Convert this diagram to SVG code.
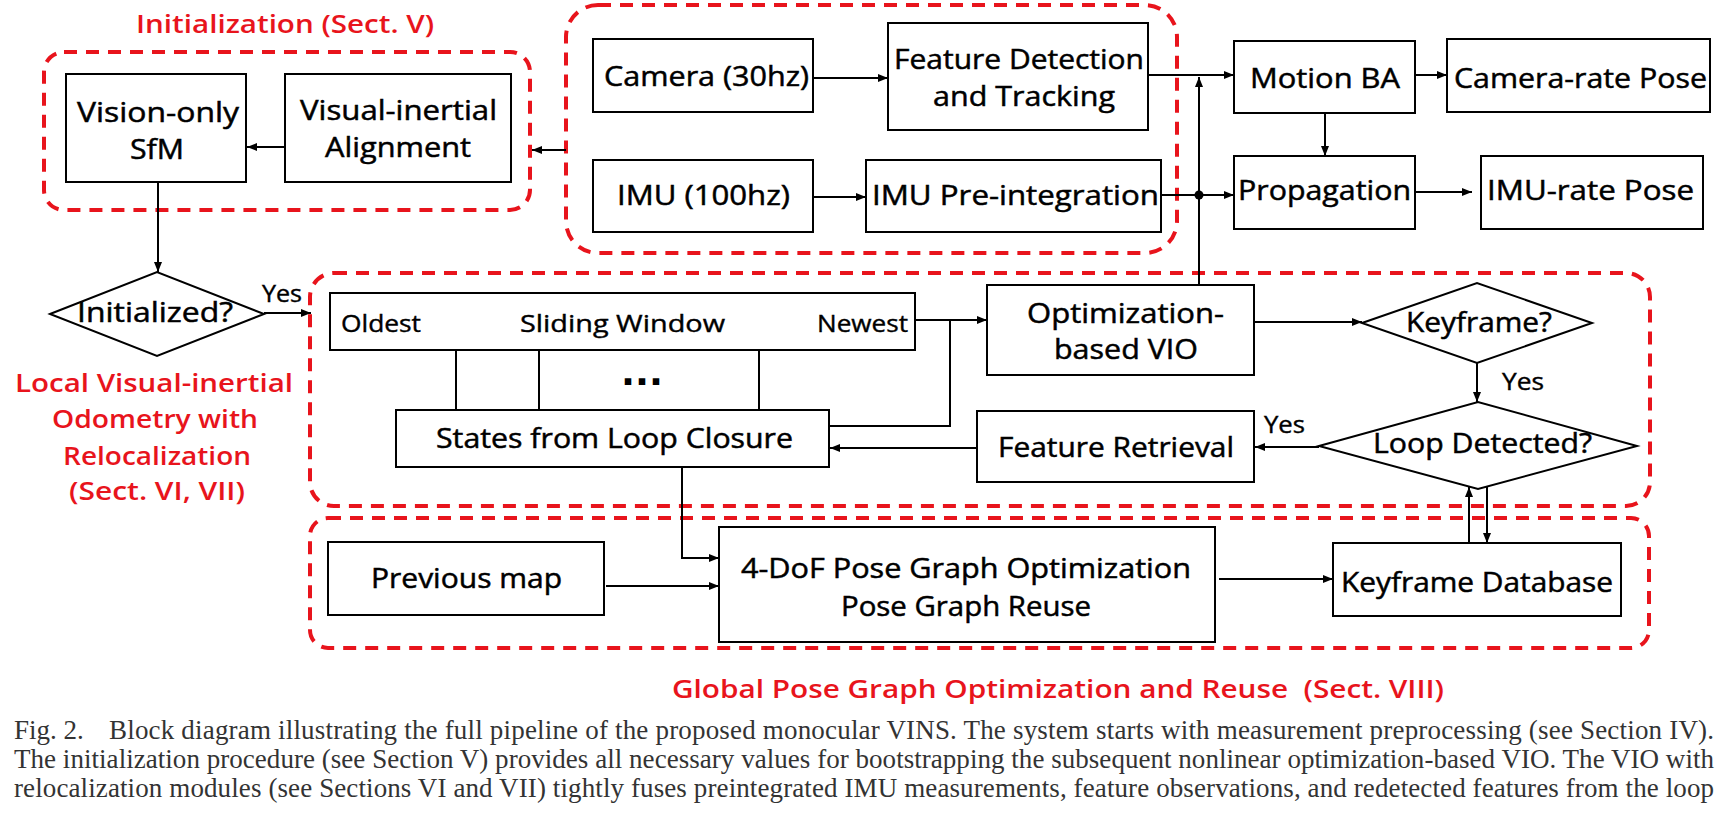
<svg xmlns="http://www.w3.org/2000/svg" width="1728" height="832" viewBox="0 0 1728 832">
<style>
.box{fill:#fff;stroke:#000;stroke-width:2}
.grp{fill:none;stroke:#e8141c;stroke-width:4;stroke-dasharray:13 9}
.ln{fill:none;stroke:#000;stroke-width:2}
.arr{fill:none;stroke:#000;stroke-width:2;marker-end:url(#ah)}
.lbl{font-family:"Open Sans","Noto Sans",sans-serif;font-size:28px;fill:#000;stroke:#000;stroke-width:0.5}
.yes{font-family:"Open Sans","Noto Sans",sans-serif;font-size:23px;fill:#000;stroke:#000;stroke-width:0.4}
.red{font-family:"Open Sans","Noto Sans",sans-serif;font-weight:600;font-size:25px;fill:#e8141c}
.cap{font-family:"Liberation Serif","Times New Roman",serif;font-size:27px;fill:#333}
</style>
<defs>
<marker id="ah" viewBox="0 0 10 8" refX="10" refY="4" markerWidth="10" markerHeight="8" markerUnits="userSpaceOnUse" orient="auto"><path d="M0,0 L10,4 L0,8 z" fill="#000"/></marker>
</defs>
<rect width="1728" height="832" fill="#fff"/>

<g id="groups">
<rect class="grp" x="44" y="52" width="486" height="158" rx="20"/>
<rect class="grp" x="566" y="5" width="611" height="248" rx="32"/>
<rect class="grp" x="310" y="273" width="1340" height="233" rx="24"/>
<rect class="grp" x="310" y="518" width="1339" height="130" rx="18"/>
<text class="red" x="136" y="33" textLength="298" lengthAdjust="spacingAndGlyphs">Initialization (Sect. V)</text>
<text class="red" x="15" y="392" textLength="278" lengthAdjust="spacingAndGlyphs">Local Visual-inertial</text>
<text class="red" x="52" y="428" textLength="206" lengthAdjust="spacingAndGlyphs">Odometry with</text>
<text class="red" x="63" y="465" textLength="188" lengthAdjust="spacingAndGlyphs">Relocalization</text>
<text class="red" x="69" y="500" textLength="176" lengthAdjust="spacingAndGlyphs">(Sect. VI, VII)</text>
<text class="red" x="672" y="698" textLength="772" lengthAdjust="spacingAndGlyphs" xml:space="preserve">Global Pose Graph Optimization and Reuse  (Sect. VIII)</text>
</g>

<g id="connectors">
<line class="arr" x1="285" y1="147" x2="247" y2="147"/>
<line class="arr" x1="566" y1="150" x2="532" y2="150"/>
<line class="arr" x1="158" y1="182" x2="158" y2="272"/>
<line class="arr" x1="264" y1="313" x2="311" y2="313"/>
<line class="arr" x1="813" y1="78" x2="888" y2="78"/>
<line class="arr" x1="813" y1="197" x2="866" y2="197"/>
<line class="arr" x1="1148" y1="75" x2="1234" y2="75"/>
<line class="arr" x1="1161" y1="195" x2="1234" y2="195"/>
<circle cx="1199" cy="195" r="4.5" fill="#000"/>
<line class="arr" x1="1199" y1="285" x2="1199" y2="77"/>
<line class="arr" x1="1415" y1="75" x2="1447" y2="75"/>
<line class="arr" x1="1325" y1="113" x2="1325" y2="156"/>
<line class="arr" x1="1410" y1="192" x2="1472" y2="192"/>
<line class="arr" x1="915" y1="320" x2="987" y2="320"/>
<polyline class="ln" points="829,426 950,426 950,320"/>
<line class="ln" x1="456" y1="350" x2="456" y2="410"/>
<line class="ln" x1="539" y1="350" x2="539" y2="410"/>
<line class="ln" x1="759" y1="350" x2="759" y2="410"/>
<line class="arr" x1="1254" y1="322" x2="1362" y2="322"/>
<line class="arr" x1="1477" y1="363" x2="1477" y2="402"/>
<line class="arr" x1="1319" y1="447" x2="1255" y2="447"/>
<line class="arr" x1="977" y1="448" x2="830" y2="448"/>
<polyline class="arr" points="682,467 682,558 719,558"/>
<line class="arr" x1="606" y1="586" x2="719" y2="586"/>
<line class="arr" x1="1219" y1="579" x2="1333" y2="579"/>
<line class="arr" x1="1469" y1="543" x2="1469" y2="487"/>
<line class="arr" x1="1487" y1="486" x2="1487" y2="543"/>
<text class="yes" x="262" y="302" textLength="40" lengthAdjust="spacingAndGlyphs">Yes</text>
<text class="yes" x="1502" y="390" textLength="42" lengthAdjust="spacingAndGlyphs">Yes</text>
<text class="yes" x="1264" y="433" textLength="41" lengthAdjust="spacingAndGlyphs">Yes</text>
</g>

<g id="sfm">
<rect class="box" x="66" y="74" width="180" height="108"/>
<text class="lbl" x="77" y="122" textLength="162" lengthAdjust="spacingAndGlyphs">Vision-only</text>
<text class="lbl" x="130" y="159" textLength="54" lengthAdjust="spacingAndGlyphs">SfM</text>
</g>
<g id="via">
<rect class="box" x="285" y="74" width="226" height="108"/>
<text class="lbl" x="300" y="120" textLength="197" lengthAdjust="spacingAndGlyphs">Visual-inertial</text>
<text class="lbl" x="325" y="157" textLength="146" lengthAdjust="spacingAndGlyphs">Alignment</text>
</g>
<g id="camera">
<rect class="box" x="593" y="39" width="220" height="73"/>
<text class="lbl" x="604" y="86" textLength="205" lengthAdjust="spacingAndGlyphs">Camera (30hz)</text>
</g>
<g id="feature-detection">
<rect class="box" x="888" y="23" width="260" height="107"/>
<text class="lbl" x="894" y="69" textLength="250" lengthAdjust="spacingAndGlyphs">Feature Detection</text>
<text class="lbl" x="933" y="106" textLength="182" lengthAdjust="spacingAndGlyphs">and Tracking</text>
</g>
<g id="imu">
<rect class="box" x="593" y="160" width="220" height="72"/>
<text class="lbl" x="617" y="205" textLength="173" lengthAdjust="spacingAndGlyphs">IMU (100hz)</text>
</g>
<g id="imu-preint">
<rect class="box" x="866" y="160" width="295" height="72"/>
<text class="lbl" x="872" y="205" textLength="287" lengthAdjust="spacingAndGlyphs">IMU Pre-integration</text>
</g>
<g id="motion-ba">
<rect class="box" x="1234" y="41" width="181" height="72"/>
<text class="lbl" x="1250" y="88" textLength="150" lengthAdjust="spacingAndGlyphs">Motion BA</text>
</g>
<g id="camera-rate-pose">
<rect class="box" x="1447" y="39" width="263" height="73"/>
<text class="lbl" x="1454" y="88" textLength="253" lengthAdjust="spacingAndGlyphs">Camera-rate Pose</text>
</g>
<g id="propagation">
<rect class="box" x="1234" y="156" width="181" height="73"/>
<text class="lbl" x="1238" y="200" textLength="173" lengthAdjust="spacingAndGlyphs">Propagation</text>
</g>
<g id="imu-rate-pose">
<rect class="box" x="1481" y="156" width="222" height="73"/>
<text class="lbl" x="1487" y="200" textLength="207" lengthAdjust="spacingAndGlyphs">IMU-rate Pose</text>
</g>
<g id="initialized">
<polygon class="box" points="50,314 157,272 264,314 157,356"/>
<text class="lbl" x="77" y="322" textLength="156" lengthAdjust="spacingAndGlyphs">Initialized?</text>
</g>
<g id="sliding-window">
<rect class="box" x="330" y="293" width="585" height="57"/>
<text class="lbl" style="font-size:24px;stroke-width:0.4" x="341" y="332" textLength="80" lengthAdjust="spacingAndGlyphs">Oldest</text>
<text class="lbl" style="font-size:24px;stroke-width:0.4" x="520" y="332" textLength="205" lengthAdjust="spacingAndGlyphs">Sliding Window</text>
<text class="lbl" style="font-size:24px;stroke-width:0.4" x="817" y="332" textLength="91" lengthAdjust="spacingAndGlyphs">Newest</text>
<text style="font-family:'DejaVu Sans',sans-serif;font-weight:bold;font-size:36px;fill:#000" x="621" y="385" textLength="42" lengthAdjust="spacingAndGlyphs">...</text>
</g>
<g id="states-loop">
<rect class="box" x="396" y="410" width="433" height="57"/>
<text class="lbl" x="436" y="448" textLength="357" lengthAdjust="spacingAndGlyphs">States from Loop Closure</text>
</g>
<g id="opt-vio">
<rect class="box" x="987" y="285" width="267" height="90"/>
<text class="lbl" x="1027" y="323" textLength="197" lengthAdjust="spacingAndGlyphs">Optimization-</text>
<text class="lbl" x="1054" y="359" textLength="144" lengthAdjust="spacingAndGlyphs">based VIO</text>
</g>
<g id="keyframe-q">
<polygon class="box" points="1362,323 1477,283 1592,323 1477,363"/>
<text class="lbl" x="1406" y="332" textLength="146" lengthAdjust="spacingAndGlyphs">Keyframe?</text>
</g>
<g id="loop-detected">
<polygon class="box" points="1319,446 1478,402 1637,446 1478,489"/>
<text class="lbl" x="1373" y="453" textLength="219" lengthAdjust="spacingAndGlyphs">Loop Detected?</text>
</g>
<g id="feature-retrieval">
<rect class="box" x="977" y="411" width="277" height="71"/>
<text class="lbl" x="998" y="457" textLength="236" lengthAdjust="spacingAndGlyphs">Feature Retrieval</text>
</g>
<g id="previous-map">
<rect class="box" x="328" y="542" width="276" height="73"/>
<text class="lbl" x="371" y="588" textLength="191" lengthAdjust="spacingAndGlyphs">Previous map</text>
</g>
<g id="pose-graph">
<rect class="box" x="719" y="527" width="496" height="115"/>
<text class="lbl" x="741" y="578" textLength="450" lengthAdjust="spacingAndGlyphs">4-DoF Pose Graph Optimization</text>
<text class="lbl" x="841" y="616" textLength="250" lengthAdjust="spacingAndGlyphs">Pose Graph Reuse</text>
</g>
<g id="keyframe-db">
<rect class="box" x="1333" y="543" width="288" height="73"/>
<text class="lbl" x="1341" y="592" textLength="272" lengthAdjust="spacingAndGlyphs">Keyframe Database</text>
</g>

<g id="caption">
<text class="cap" x="14" y="739">Fig. 2.</text>
<text class="cap" x="109" y="739" textLength="1605" lengthAdjust="spacing">Block diagram illustrating the full pipeline of the proposed monocular VINS. The system starts with measurement preprocessing (see Section IV).</text>
<text class="cap" x="14" y="768" textLength="1700" lengthAdjust="spacing">The initialization procedure (see Section V) provides all necessary values for bootstrapping the subsequent nonlinear optimization-based VIO. The VIO with</text>
<text class="cap" x="14" y="797" textLength="1700" lengthAdjust="spacing">relocalization modules (see Sections VI and VII) tightly fuses preintegrated IMU measurements, feature observations, and redetected features from the loop</text>
</g>
</svg>
